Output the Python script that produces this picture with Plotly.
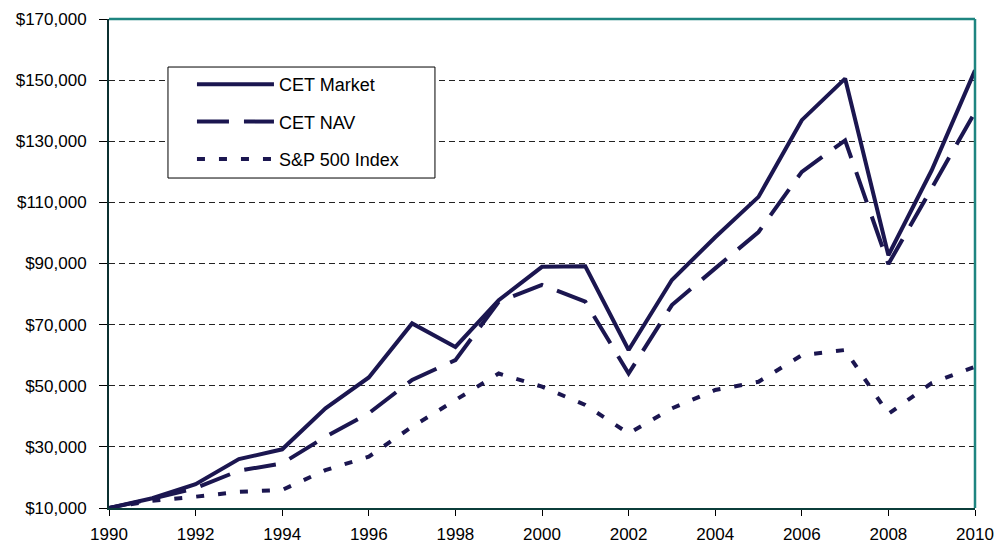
import plotly.graph_objects as go

years = list(range(1990, 2011))
cet_market = [10000, 13200, 17800, 26000, 29200, 42600, 52700, 70400, 62700, 78000,
              88900, 89100, 61700, 84600, 98600, 111800, 136900, 150500, 92700, 120500, 153200]
cet_nav = [10000, 13000, 16500, 22200, 24600, 33300, 41000, 51900, 58400, 77500,
           83000, 77500, 54000, 76400, 88400, 100300, 120000, 130300, 89800, 114500, 139500]
sp500 = [10000, 12400, 13700, 15300, 15900, 22400, 26800, 36600, 45300, 54000,
         49700, 43700, 34400, 42600, 48600, 51300, 60000, 61700, 40800, 50900, 56200]
series_names = ["CET Market", "CET NAV", "S&P 500 Index"]
x_ticks = list(range(1990, 2011, 2))
y_ticks = list(range(10000, 170001, 20000))
y_ticktext = ["$" + format(v, ",") for v in y_ticks]

NAVY = "#1b1650"
FONT = "Liberation Sans, Arial, sans-serif"

fig = go.Figure()
styles = ["solid", "32px,15px", "8px,14px"]
for i, (name, vals) in enumerate(zip(series_names, [cet_market, cet_nav, sp500])):
    fig.add_trace(go.Scatter(
        x=years, y=vals, name=name, mode="lines", legendgroup=f"g{i}",
        line=dict(color=NAVY, width=4, dash=styles[i]),
    ))

fig.update_layout(
    width=996, height=545,
    margin=dict(l=109, r=21, t=19, b=37, autoexpand=False),
    paper_bgcolor="white", plot_bgcolor="white",
    font=dict(family=FONT, size=16, color="black"),
    showlegend=True,
    legend=dict(
        x=0.0958, y=0.904, xanchor="left", yanchor="top",
        borderwidth=0, bgcolor="rgba(0,0,0,0)",
        font=dict(family=FONT, size=18, color="black"),
        itemwidth=77, traceorder="grouped", tracegroupgap=11,
    ),
    xaxis=dict(
        range=[1990, 2010], tickmode="array", tickvals=x_ticks,
        showgrid=False, zeroline=False, automargin=False,
        showline=True, linecolor="#0b3d3a", linewidth=2,
        ticks="outside", ticklen=6, tickcolor="black", tickwidth=1,
        tickfont=dict(family=FONT, size=17), ticklabelstandoff=4,
    ),
    yaxis=dict(
        range=[10000, 170000], tickmode="array", tickvals=y_ticks,
        ticktext=y_ticktext,
        showgrid=True, gridcolor="#222222", gridwidth=1, griddash="6px,4px",
        zeroline=False, automargin=False,
        showline=True, linecolor="#0b3030", linewidth=2,
        ticks="outside", ticklen=8, tickcolor="black", tickwidth=1,
        tickfont=dict(family=FONT, size=17), ticklabelstandoff=9,
    ),
    shapes=[
        dict(type="line", xref="paper", yref="paper", x0=0, x1=1, y0=1, y1=1,
             line=dict(color="#1e8580", width=2.5)),
        dict(type="line", xref="paper", yref="paper", x0=1, x1=1, y0=0, y1=1,
             line=dict(color="#1e8580", width=2.5)),
        dict(type="rect", xref="paper", yref="paper", x0=0.0681, x1=0.3764,
             y0=0.6748, y1=0.9018, layer="above", fillcolor="white",
             line=dict(color="black", width=1)),
    ],
)

fig.write_html(
    "out.html",
    config={"displayModeBar": False},
    post_script="document.body.style.margin='0px';document.body.style.overflow='hidden';",
)
